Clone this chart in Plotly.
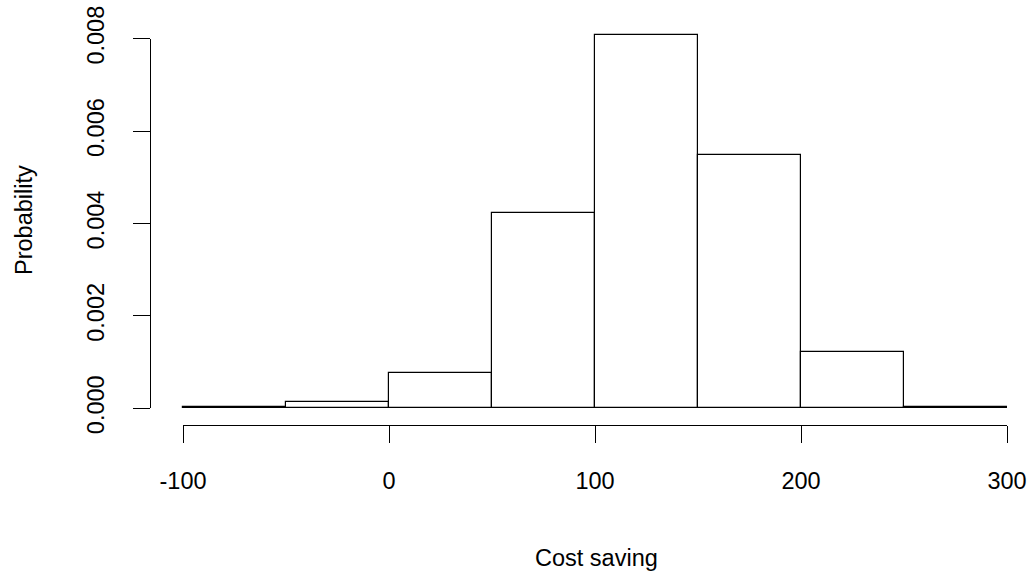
import plotly.graph_objects as go

# ---- data ----
bin_left = [-100, -50, 0, 50, 100, 150, 200, 250]
bin_width = 50
density = [0.00002, 0.00013, 0.00076, 0.00422, 0.00809, 0.00548, 0.00121, 0.00002]
x_ticks = [-100, 0, 100, 200, 300]
y_ticks = [0.000, 0.002, 0.004, 0.006, 0.008]
y_tick_text = ["0.000", "0.002", "0.004", "0.006", "0.008"]
x_title = "Cost saving"
y_title = "Probability"

# ---- geometry (pixels) ----
W, H = 1030, 574
ml, mr, mt, mb = 150, 0, 20, 149
pw, ph = W - ml - mr, H - mt - mb
x_left_px, x_right_px = 183, 1007      # -100 and 300
y_zero_px, y_top_px = 408.3, 38.7      # 0.000 and 0.008

xs = (x_right_px - x_left_px) / (x_ticks[-1] - x_ticks[0])
ys = (y_zero_px - y_top_px) / (y_ticks[-1] - y_ticks[0])
x_range = [x_ticks[0] - (x_left_px - ml) / xs, x_ticks[-1] + (W - mr - x_right_px) / xs]
y_range = [y_ticks[0] - (H - mb - y_zero_px) / ys, y_ticks[0] + (y_zero_px - mt) / ys]

FONT = "Liberation Sans, Arial, sans-serif"
FS = 23.5

fig = go.Figure()
fig.add_trace(go.Bar(
    x=[b + bin_width / 2 for b in bin_left], y=density, width=bin_width,
    marker=dict(color="white", line=dict(color="black", width=1.2)),
    xaxis="x", yaxis="y", hoverinfo="skip", showlegend=False,
))
# invisible trace so the display axes are drawn
fig.add_trace(go.Scatter(
    x=[x_ticks[0]], y=[y_ticks[0]], mode="markers", marker=dict(opacity=0),
    xaxis="x2", yaxis="y2", hoverinfo="skip", showlegend=False,
))

fig.update_layout(
    width=W, height=H,
    margin=dict(l=ml, r=mr, t=mt, b=mb, autoexpand=False),
    paper_bgcolor="white", plot_bgcolor="rgba(0,0,0,0)",
    font=dict(family=FONT, size=FS, color="black"),
    bargap=0,
    xaxis=dict(domain=[0, 1], range=x_range, visible=False, fixedrange=True),
    yaxis=dict(domain=[0, 1], range=y_range, visible=False, fixedrange=True),
    xaxis2=dict(
        domain=[(x_left_px - ml) / pw, (x_right_px - ml) / pw], range=[x_ticks[0], x_ticks[-1]],
        anchor="free", position=0, showline=True, linecolor="black", linewidth=1.2,
        ticks="outside", ticklen=17, tickwidth=1.2, tickcolor="black",
        tickvals=x_ticks, ticktext=[str(v) for v in x_ticks],
        showgrid=False, zeroline=False, ticklabelstandoff=18, automargin=False,
        tickfont=dict(family=FONT, size=FS, color="black"),
    ),
    yaxis2=dict(
        domain=[(H - mb - y_zero_px) / ph, (H - mb - y_top_px) / ph], range=[y_ticks[0], y_ticks[-1]],
        anchor="free", position=0, showline=True, linecolor="black", linewidth=1.2,
        ticks="outside", ticklen=17, tickwidth=1.2, tickcolor="black",
        tickvals=y_ticks, ticktext=y_tick_text, tickangle=-90,
        showgrid=False, zeroline=False, ticklabelstandoff=20, automargin=False,
        tickfont=dict(family=FONT, size=FS, color="black"),
    ),
    annotations=[
        dict(text=y_title, xref="paper", yref="paper", x=(24 - ml) / pw, y=(H - mb - 220) / ph,
             textangle=-90, showarrow=False, xanchor="center", yanchor="middle",
             font=dict(family=FONT, size=FS, color="black")),
        dict(text=x_title, xref="paper", yref="paper", x=(596 - ml) / pw, y=(H - mb - 558) / ph,
             showarrow=False, xanchor="center", yanchor="middle",
             font=dict(family=FONT, size=FS, color="black")),
    ],
)

fig.write_html("out.html")
